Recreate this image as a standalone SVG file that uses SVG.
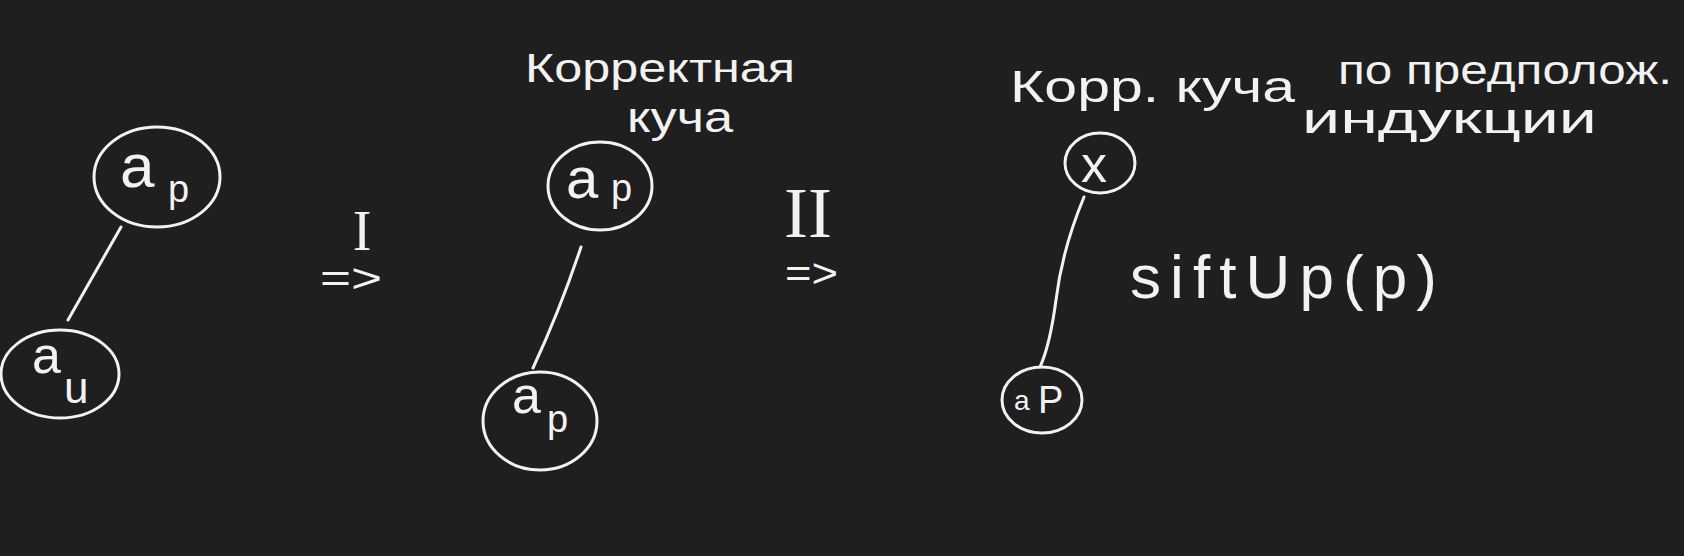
<svg xmlns="http://www.w3.org/2000/svg" width="1684" height="556" viewBox="0 0 1684 556">
<style>
.bg{fill:#1f1f1f}
.node{fill:none;stroke:#f2f2f2;stroke-width:3;stroke-linecap:round}
.edge{fill:none;stroke:#f2f2f2;stroke-width:3;stroke-linecap:round}
.t{fill:#f2f2f2;font-family:"Liberation Sans","Noto Sans",sans-serif}
.r{fill:#f2f2f2;font-family:"Liberation Serif",serif}
</style>
<rect class="bg" x="0" y="0" width="1684" height="556"/>
<g id="title1">
<text class="t" x="525" y="82" font-size="40" textLength="270" lengthAdjust="spacingAndGlyphs">Корректная</text>
<text class="t" x="627" y="132" font-size="42" textLength="106" lengthAdjust="spacingAndGlyphs">куча</text>
</g>
<g id="title2">
<text class="t" x="1010" y="102" font-size="44" textLength="285" lengthAdjust="spacingAndGlyphs">Корр. куча</text>
<text class="t" x="1338" y="84" font-size="40" textLength="334" lengthAdjust="spacingAndGlyphs">по предполож.</text>
<text class="t" x="1302" y="133" font-size="42" textLength="295" lengthAdjust="spacingAndGlyphs">индукции</text>
</g>
<g id="connectors">
<path class="edge" d="M121 227 L68 320"/>
<path class="edge" d="M581 247 Q560 310 533 368"/>
<path class="edge" d="M1084 197 Q1062 250 1056 300 Q1050 345 1040 367"/>
</g>
<g id="node-ap-1">
<ellipse class="node" cx="157" cy="177" rx="63" ry="50"/>
<text class="t" x="120" y="187" font-size="62">a</text>
<text class="t" x="168" y="202" font-size="38">p</text>
</g>
<g id="node-au">
<ellipse class="node" cx="60" cy="374" rx="59" ry="44"/>
<text class="t" x="32" y="373" font-size="52">a</text>
<text class="t" x="64" y="403" font-size="44">u</text>
</g>
<g id="node-ap-2">
<ellipse class="node" cx="600" cy="186" rx="52" ry="44"/>
<text class="t" x="566" y="198" font-size="58">a</text>
<text class="t" x="611" y="201" font-size="38">p</text>
</g>
<g id="node-ap-3">
<ellipse class="node" cx="540" cy="421" rx="57" ry="49"/>
<text class="t" x="512" y="413" font-size="52">a</text>
<text class="t" x="547" y="432" font-size="38">p</text>
</g>
<g id="node-x">
<ellipse class="node" cx="1100" cy="163" rx="35" ry="30"/>
<text class="t" x="1094" y="182" font-size="52" text-anchor="middle">x</text>
</g>
<g id="node-ap-4">
<ellipse class="node" cx="1042" cy="400" rx="40" ry="33"/>
<text class="t" x="1014" y="410" font-size="28">a</text>
<text class="t" x="1038" y="413" font-size="38">P</text>
</g>
<g id="labels">
<text class="r" x="362" y="250" font-size="56" text-anchor="middle">I</text>
<text class="t" x="320" y="292" font-size="40" textLength="62" lengthAdjust="spacingAndGlyphs">=&gt;</text>
<text class="r" x="808" y="237" font-size="72" text-anchor="middle">II</text>
<text class="t" x="785" y="287" font-size="40" textLength="53" lengthAdjust="spacingAndGlyphs">=&gt;</text>
<text class="t" x="1130" y="298" font-size="62" textLength="307" lengthAdjust="spacing">siftUp(p)</text>
</g>
</svg>
